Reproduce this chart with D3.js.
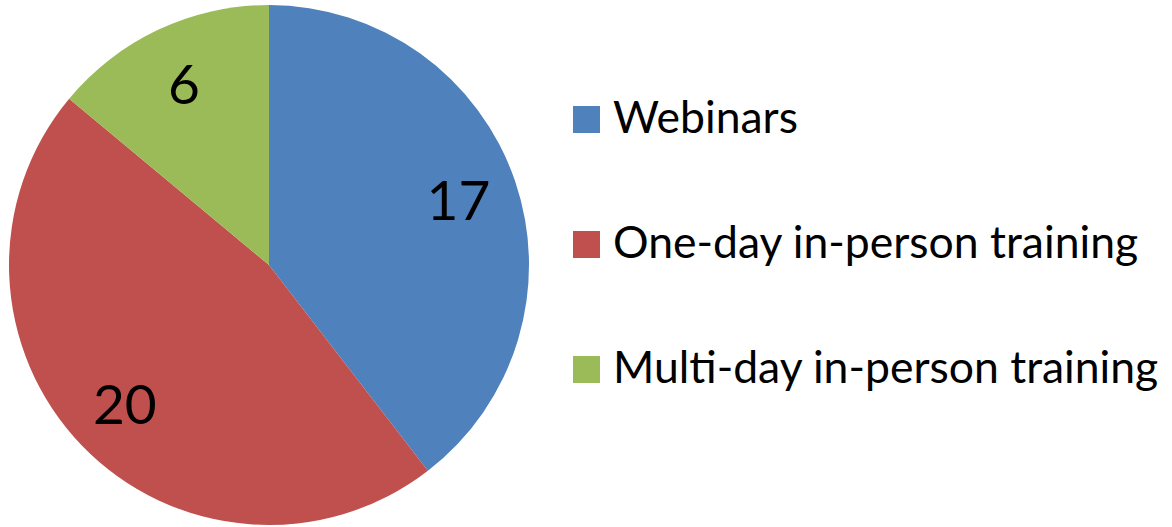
<!DOCTYPE html>
<html>
<head>
<meta charset="utf-8">
<script src="https://cdn.jsdelivr.net/npm/d3@7"></script>
<style>
  body { margin: 0; background: #fff; }
</style>
</head>
<body>
<script>
// Chart size
const width = 1172;
const height = 527;

// Data
const categories = ["Webinars", "One-day in-person training", "Multi-day in-person training"];
const values = [17, 20, 6];
const colors = ["#4F81BD", "#C0504D", "#9BBB59"];

const data = categories.map((name, i) => ({ name, value: values[i], color: colors[i] }));

const svg = d3.select("body")
  .append("svg")
  .attr("width", width)
  .attr("height", height)
  .style("font-family", "Lato, 'Noto Sans', sans-serif");

// Pie geometry
const cx = 269, cy = 265, r = 260;

const pie = d3.pie()
  .value(d => d.value)
  .sort(null);

const arc = d3.arc().innerRadius(0).outerRadius(r);
const labelArc = d3.arc().innerRadius(r * 0.77).outerRadius(r * 0.77);

const g = svg.append("g")
  .attr("transform", `translate(${cx},${cy})`);

const arcs = pie(data);

g.selectAll("path")
  .data(arcs)
  .enter()
  .append("path")
  .attr("d", arc)
  .attr("fill", d => d.data.color);

// Value labels
g.selectAll("text")
  .data(arcs)
  .enter()
  .append("text")
  .attr("transform", d => `translate(${labelArc.centroid(d)})`)
  .attr("text-anchor", "middle")
  .attr("dy", "0.36em")
  .style("font-size", "55px")
  .style("fill", "#000")
  .text(d => d.data.value);

// Legend
const legend = svg.append("g")
  .attr("transform", "translate(573, 133)");

const row = legend.selectAll("g")
  .data(data)
  .enter()
  .append("g")
  .attr("transform", (d, i) => `translate(0, ${i * 125})`);

row.append("rect")
  .attr("x", 0)
  .attr("y", -27)
  .attr("width", 27)
  .attr("height", 27)
  .attr("fill", d => d.color);

row.append("text")
  .attr("x", 40)
  .attr("y", 0)
  .style("font-size", "44.5px")
  .style("fill", "#000")
  .text(d => d.name);
</script>
</body>
</html>
